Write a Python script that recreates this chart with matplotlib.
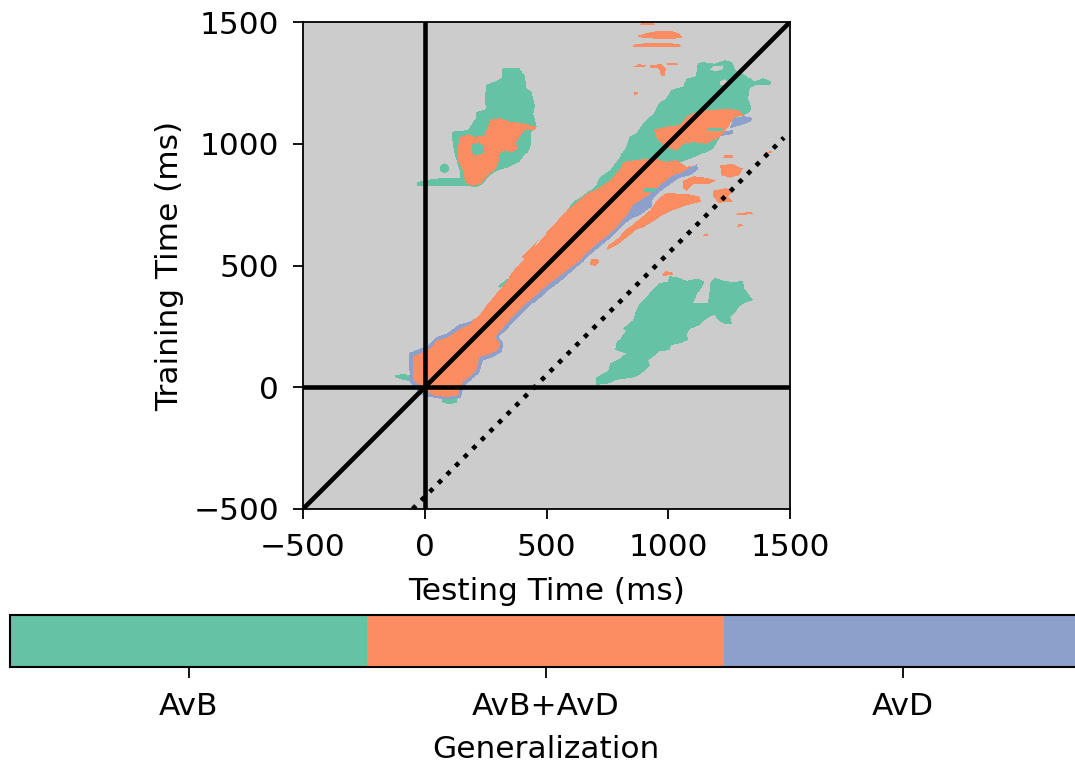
import numpy as np
import matplotlib
matplotlib.use("Agg")
import matplotlib.pyplot as plt
from matplotlib.colors import ListedColormap
from matplotlib.path import Path

# time axis (ms) and reference lines
TIME_MIN, TIME_MAX, STEP = -500, 1500, 4
TICKS = [-500, 0, 500, 1000, 1500]
LAG_MS = 450
DOTTED_RANGE = [-50, 1475]

LABELS = ["AvB", "AvB+AvD", "AvD"]
COLORS = ["#66c2a5", "#fc8d62", "#8da0cb"]
BG = "#cccccc"

# region outlines, (testing ms, training ms)
GREEN_UL = [(319,1311),(390,1311),(411,1281),(418,1227),(438,1213),(452,1158),(445,1124),(459,1069),
            (438,1049),(438,1001),(424,967),(411,953),(390,925),(349,905),(301,891),(267,871),(240,836),
            (212,823),(157,830),(-34,827),(-34,843),(21,854),(75,860),(144,860),(144,884),(123,953),
            (116,994),(110,1049),(171,1055),(185,1069),(212,1103),(212,1131),(253,1144),(246,1179),
            (253,1240),(287,1254),(315,1268),(315,1302)]
GREEN_DOT = [(62,899),(68,913),(82,919),(96,913),(102,899),(96,885),(82,879),(68,885)]
GREEN_LR = [(705,8),(705,42),(753,70),(760,97),(801,118),(828,138),(780,152),(787,186),(808,207),
            (828,234),(814,241),(856,275),(869,316),(883,344),(910,371),(931,398),(958,426),(999,433),
            (1006,456),(1041,450),(1075,437),(1123,446),(1150,433),(1136,405),(1116,378),(1102,350),
            (1129,344),(1164,350),(1171,398),(1171,426),(1191,450),(1219,439),(1253,433),(1280,433),
            (1307,437),(1314,405),(1335,378),(1348,360),(1321,350),(1294,330),(1280,309),(1253,289),
            (1260,261),(1232,259),(1205,275),(1191,296),(1171,289),(1150,275),(1129,255),(1088,241),
            (1075,220),(1082,193),(1047,179),(1013,172),(1006,152),(958,145),(945,131),(917,111),
            (924,90),(904,70),(876,49),(842,36),(787,29),(760,15)]
GREEN_BAND = [(560,700),(589,734),(609,761),(664,795),(705,830),(719,864),(760,891),(801,946),(828,987),
              (842,1028),(869,1042),(897,1083),(910,1097),(938,1124),(958,1165),(993,1186),(1013,1220),
              (1061,1234),(1075,1268),(1116,1281),(1123,1329),(1143,1336),(1191,1329),(1232,1343),
              (1260,1336),(1280,1302),(1321,1281),(1355,1254),(1389,1268),(1424,1254),(1417,1240),
              (1362,1240),(1335,1227),(1328,1186),(1342,1151),(1335,1131),(1266,1097),(1239,1069),
              (1212,1028),(1184,980),(1130,953),(1075,932),(1020,912),(900,840),(700,700),(600,660)]
GREEN_TAIL_A = [(-130,49),(-89,56),(-48,49),(-48,22),(-89,29),(-115,38)]
GREEN_TAIL_B = [(68,-40),(135,-40),(132,-62),(100,-70),(72,-60)]
GREEN_FRINGES = [
    [(105,205),(135,232),(142,222),(112,198)],
    [(300,415),(340,447),(352,438),(310,408)],
    [(515,640),(555,668),(566,656),(528,630)],
]
GRAY_HOLES = [
    [(1170,1304),(1200,1300),(1226,1308),(1222,1322),(1185,1320)],
    [(1212,1242),(1240,1238),(1248,1252),(1230,1262),(1214,1256)],
]

BLUE_CORE = [(-20,-30),(-60,20),(-65,140),(15,172),(50,208),(92,222),(140,258),(178,268),(230,290),
             (300,360),(420,520),(640,760),(800,880),(1000,905),(1095,905),(1118,915),(1125,895),
             (1090,872),(1045,860),(985,818),(935,775),(930,740),(880,705),(845,692),(800,650),
             (760,610),(720,578),(665,532),(610,480),(555,432),(500,392),(445,345),(402,305),
             (348,250),(303,208),(322,178),(315,145),(278,122),(240,110),(225,60),(170,12),
             (155,-10),(148,-42),(90,-50),(30,-42)]
BLUE_TOP = [(1250,1062),(1300,1075),(1340,1090),(1345,1105),(1310,1112),(1266,1100)]
BLUE_SPOT = [(1215,1032),(1262,1040),(1266,1055),(1230,1052)]

ORANGE_UL = [(267,1097),(308,1103),(349,1090),(404,1083),(459,1069),(452,1055),(411,1055),(390,1028),
             (376,1005),(383,980),(356,967),(322,973),(308,960),(301,919),(287,891),(260,871),
             (233,836),(192,827),(164,843),(157,884),(137,925),(130,967),(144,1028),(178,1038),
             (212,1028),(246,1035),(260,1069)]
ORANGE_CORE = [(-7,-5),(-48,29),(-48,125),(20,159),(55,193),(96,207),(144,241),(178,255),(226,296),
               (281,371),(322,419),(363,474),(418,540),(472,600),(527,665),(582,725),(650,782),
               (719,823),(760,850),(801,898),(821,925),(869,932),(938,939),(993,925),(1034,932),
               (1075,905),(1102,912),(1061,884),(1020,871),(965,830),(910,782),(856,748),(828,700),
               (787,659),(746,617),(710,590),(655,540),(600,490),(541,446),(486,405),(431,357),
               (390,316),(335,261),(288,207),(308,179),(301,152),(267,135),(226,125),(212,70),
               (158,22),(144,-5),(137,-33),(89,-40),(34,-33)]
ORANGE_PATCH = [(938,1056),(993,1069),(1047,1076),(1088,1124),(1157,1138),(1239,1145),(1294,1138),
                (1314,1117),(1266,1103),(1246,1069),(1212,1028),(1184,1014),(1157,1001),(1102,1008),
                (1061,1001),(1034,973),(993,987),(952,1021)]
ORANGE_STREAK = [(993,795),(1075,793),(1130,782),(1136,761),(1075,747),(1020,727),(965,700),(910,666),
                 (869,645),(828,611),(787,583),(746,563),(753,583),(801,617),(842,659),(883,693),
                 (924,727),(952,768)]
ORANGE_BITS = [
    [(1212,912),(1266,916),(1307,898),(1294,871),(1253,861),(1218,871)],
    [(1061,850),(1102,867),(1157,861),(1198,850),(1171,837),(1102,837),(1075,809),(1058,820)],
    [(1184,809),(1239,820),(1266,802),(1246,782),(1266,761),(1205,757),(1184,782)],
    [(1225,939),(1266,941),(1262,953),(1228,952)],
    [(1390,955),(1430,962),(1428,972),(1395,968)],
    [(1280,706),(1348,712),(1345,720),(1285,716)],
    [(1285,660),(1307,664),(1305,672),(1288,670)],
    [(678,505),(700,500),(719,515),(712,530),(685,528)],
    [(980,455),(1020,462),(1015,474),(985,470)],
    [(395,535),(410,548),(440,580),(462,602),(456,585),(432,555),(410,530)],
    [(975,460),(990,476),(1010,472),(1000,460)],
    [(1145,620),(1165,622),(1162,630),(1148,628)],
    # streaks at the top of the map
    [(876,1446),(924,1459),(972,1466),(1013,1464),(1047,1453),(1061,1439),(1020,1432),(965,1432),
     (910,1436),(876,1439)],
    [(856,1405),(910,1412),(992,1414),(1054,1405),(1047,1395),(924,1395),(856,1398)],
    [(883,1486),(945,1490),(940,1496),(888,1494)],
    [(856,1318),(880,1327),(910,1324),(900,1316)],
    [(924,1322),(972,1329),(992,1309),(986,1281),(972,1281),(965,1309),(924,1313)],
    [(995,1323),(1040,1326),(1036,1331),(998,1330)],
    [(862,1199),(876,1203),(874,1213),(862,1210)],
]
GREEN_HOLES = [
    [(192,997),(226,1005),(246,987),(240,955),(205,953),(192,973)],
    [(897,820),(951,818),(945,800),(900,802)],
    [(1160,1050),(1220,1052),(1222,1062),(1165,1063)],
]


def rasterize(layers):
    t = np.arange(TIME_MIN, TIME_MAX, STEP) + STEP / 2
    tx, ty = np.meshgrid(t, t)
    pts = np.column_stack([tx.ravel(), ty.ravel()])
    grid = np.zeros(tx.shape, dtype=int)
    for code, poly in layers:
        inside = Path(poly).contains_points(pts).reshape(tx.shape)
        grid[inside] = code
    return grid


layers = [(1, p) for p in [GREEN_UL, GREEN_DOT, GREEN_LR, GREEN_BAND, GREEN_TAIL_A, GREEN_TAIL_B] + GREEN_FRINGES]
layers += [(0, p) for p in GRAY_HOLES]
layers += [(3, p) for p in [BLUE_CORE, BLUE_TOP, BLUE_SPOT]]
layers += [(2, p) for p in [ORANGE_UL, ORANGE_CORE, ORANGE_PATCH, ORANGE_STREAK] + ORANGE_BITS]
layers += [(1, p) for p in GREEN_HOLES]
grid = rasterize(layers)

plt.rcParams.update({"font.size": 22.5, "font.family": "DejaVu Sans"})
fig = plt.figure(figsize=(10.75, 7.66), dpi=100)
ax = fig.add_axes([303 / 1075, 257 / 766, 487 / 1075, 487 / 766])
ax.set_facecolor(BG)

im = ax.imshow(np.ma.masked_equal(grid, 0), origin="lower",
               extent=[TIME_MIN, TIME_MAX, TIME_MIN, TIME_MAX],
               cmap=ListedColormap(COLORS), vmin=0.5, vmax=3.5,
               interpolation="nearest", aspect="equal")

lw = 3.3
ax.axvline(0, color="black", lw=lw)
ax.axhline(0, color="black", lw=lw)
ax.plot([TIME_MIN, TIME_MAX], [TIME_MIN, TIME_MAX], color="black", lw=lw)
dx = np.array(DOTTED_RANGE)
ax.plot(dx, dx - LAG_MS, color="black", lw=lw, ls=":")

ax.set_xlim(TIME_MIN, TIME_MAX)
ax.set_ylim(TIME_MIN, TIME_MAX)
ax.set_xticks(TICKS)
ax.set_yticks(TICKS)
ax.tick_params(length=7.2, width=1.3, pad=10)
for s in ax.spines.values():
    s.set_linewidth(1.3)
ax.set_xlabel("Testing Time (ms)", labelpad=11)
ax.set_ylabel("Training Time (ms)", labelpad=7)

cax = fig.add_axes([10 / 1075, 99 / 766, 1071 / 1075, 52 / 766])
cb = fig.colorbar(im, cax=cax, orientation="horizontal", ticks=[1, 2, 3])
cb.set_ticklabels(LABELS)
cb.set_label("Generalization", labelpad=10)
cb.outline.set_linewidth(1.5)
cax.tick_params(length=8, width=1.3, pad=10)

fig.savefig("out.png", dpi=100)
